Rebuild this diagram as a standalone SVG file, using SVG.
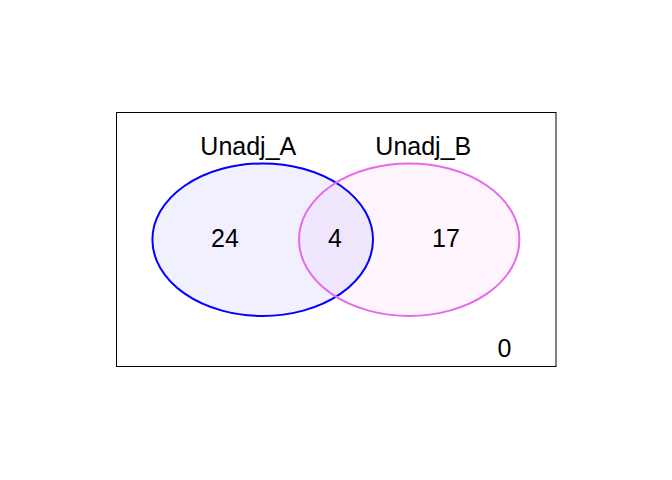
<svg xmlns="http://www.w3.org/2000/svg" width="672" height="480" viewBox="0 0 672 480">
<style>
text{font-family:"Liberation Sans",Arial,sans-serif;font-size:25px;fill:#000;text-anchor:middle}
.set{stroke-width:2}
</style>
<rect width="672" height="480" fill="#fff"/>
<rect id="universe" x="116.5" y="112.5" width="439.5" height="254" fill="none" stroke="#000" stroke-width="1"/>
<g id="setA">
<ellipse class="set" cx="262.7" cy="239.7" rx="110.3" ry="76.3" fill="#0000ff" fill-opacity="0.06" stroke="none"/>
</g>
<g id="setB">
<ellipse class="set" cx="409.2" cy="239.7" rx="110.2" ry="76.3" fill="#ee82ee" fill-opacity="0.08" stroke="none"/>
</g>
<ellipse class="set" cx="262.7" cy="239.7" rx="110.3" ry="76.3" fill="none" stroke="#0000ff"/>
<ellipse class="set" cx="409.2" cy="239.7" rx="110.2" ry="76.3" fill="none" stroke="#e86ae8"/>
<g id="labels">
<text x="248.3" y="155">Unadj_A</text>
<text x="423.3" y="155">Unadj_B</text>
<text x="225" y="247">24</text>
<text x="335" y="247">4</text>
<text x="446" y="247">17</text>
<text x="504.5" y="357">0</text>
</g>
</svg>
